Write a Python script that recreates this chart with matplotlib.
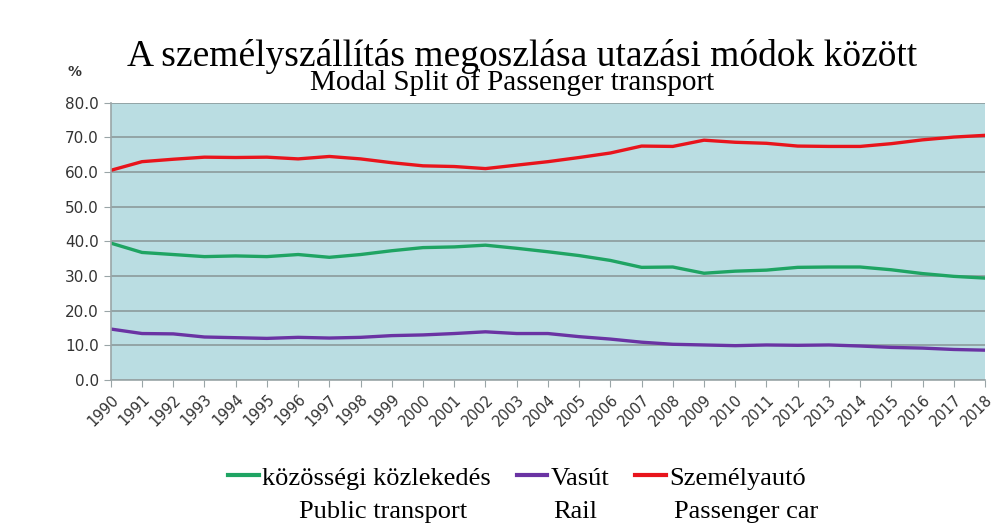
import numpy as np
import matplotlib
matplotlib.use("Agg")
from matplotlib import pyplot as plt

years = list(range(1990, 2019))

# közösségi közlekedés / Public transport
publicTransport = [39.5, 36.8, 36.2, 35.6, 35.8, 35.6, 36.2, 35.4, 36.2, 37.3,
                   38.2, 38.4, 38.9, 38.0, 37.0, 35.9, 34.5, 32.5, 32.6, 30.8,
                   31.4, 31.7, 32.5, 32.6, 32.6, 31.8, 30.7, 29.9, 29.4]
# Vasút / Rail
rail = [14.7, 13.4, 13.3, 12.4, 12.2, 12.0, 12.3, 12.1, 12.3, 12.8,
        13.0, 13.4, 13.9, 13.4, 13.4, 12.5, 11.8, 10.9, 10.3, 10.1,
        9.9, 10.1, 10.0, 10.1, 9.8, 9.4, 9.2, 8.8, 8.6]
# Személyautó / Passenger car
passengerCar = [60.5, 63.0, 63.7, 64.3, 64.2, 64.3, 63.8, 64.5, 63.8, 62.7,
                61.8, 61.6, 61.0, 62.0, 63.0, 64.2, 65.5, 67.5, 67.4, 69.2,
                68.6, 68.3, 67.5, 67.4, 67.4, 68.2, 69.3, 70.1, 70.6]

labelsHu = ["közösségi közlekedés", "Vasút", "Személyautó"]
labelsEn = ["Public transport", "Rail", "Passenger car"]
colors = ["#1fa463", "#6a33a3", "#e8141c"]

serif = ["Liberation Serif", "DejaVu Serif"]

fig = plt.figure(figsize=(9.98, 5.27), dpi=100)
ax = fig.add_axes([0.111, 0.279, 0.876, 0.526])
ax.set_facecolor("#badde2")

for series, lab, col in zip([publicTransport, rail, passengerCar], labelsHu, colors):
    ax.plot(years, series, color=col, lw=2.4, label=lab, solid_joinstyle="round")

ax.set_xlim(1990, 2018)
ax.set_ylim(0, 80)
ax.set_yticks(np.arange(0, 81, 10))
ax.set_yticklabels(["%.1f" % v for v in np.arange(0, 81, 10)], fontsize=11, color="#333333")
ax.set_xticks(years)
ax.set_xticklabels([str(y) for y in years], rotation=45, ha="right",
                   rotation_mode="anchor", fontsize=10.5, color="#333333")
ax.grid(axis="y", color="#8c9a9c", lw=1.2)
ax.set_axisbelow(True)
for s in ["top", "right"]:
    ax.spines[s].set_visible(False)
for s in ["left", "bottom"]:
    ax.spines[s].set_color("#9aa5a7")
    ax.spines[s].set_linewidth(1.2)
ax.tick_params(axis="both", color="#9aa5a7", length=5)

fig.text(0.523, 0.874, "A személyszállítás megoszlása utazási módok között",
         ha="center", fontsize=27, family=serif)
fig.text(0.513, 0.829, "Modal Split of Passenger transport",
         ha="center", fontsize=21, family=serif)
fig.text(0.075, 0.855, "%", ha="center", fontsize=10, fontweight="bold", color="#333333")

leg = fig.legend(loc="center", bbox_to_anchor=(0.518, 0.093), ncol=3, frameon=False,
                 prop={"family": serif, "size": 19}, handlelength=1.15,
                 handletextpad=0.12, columnspacing=1.0)
for line in leg.get_lines():
    line.set_linewidth(3)
fig.text(0.384, 0.028, labelsEn[0], ha="center", va="center", fontsize=19, family=serif)
fig.text(0.576, 0.028, labelsEn[1], ha="center", va="center", fontsize=19, family=serif)
fig.text(0.748, 0.028, labelsEn[2], ha="center", va="center", fontsize=19, family=serif)

fig.savefig("out.png", dpi=100)
